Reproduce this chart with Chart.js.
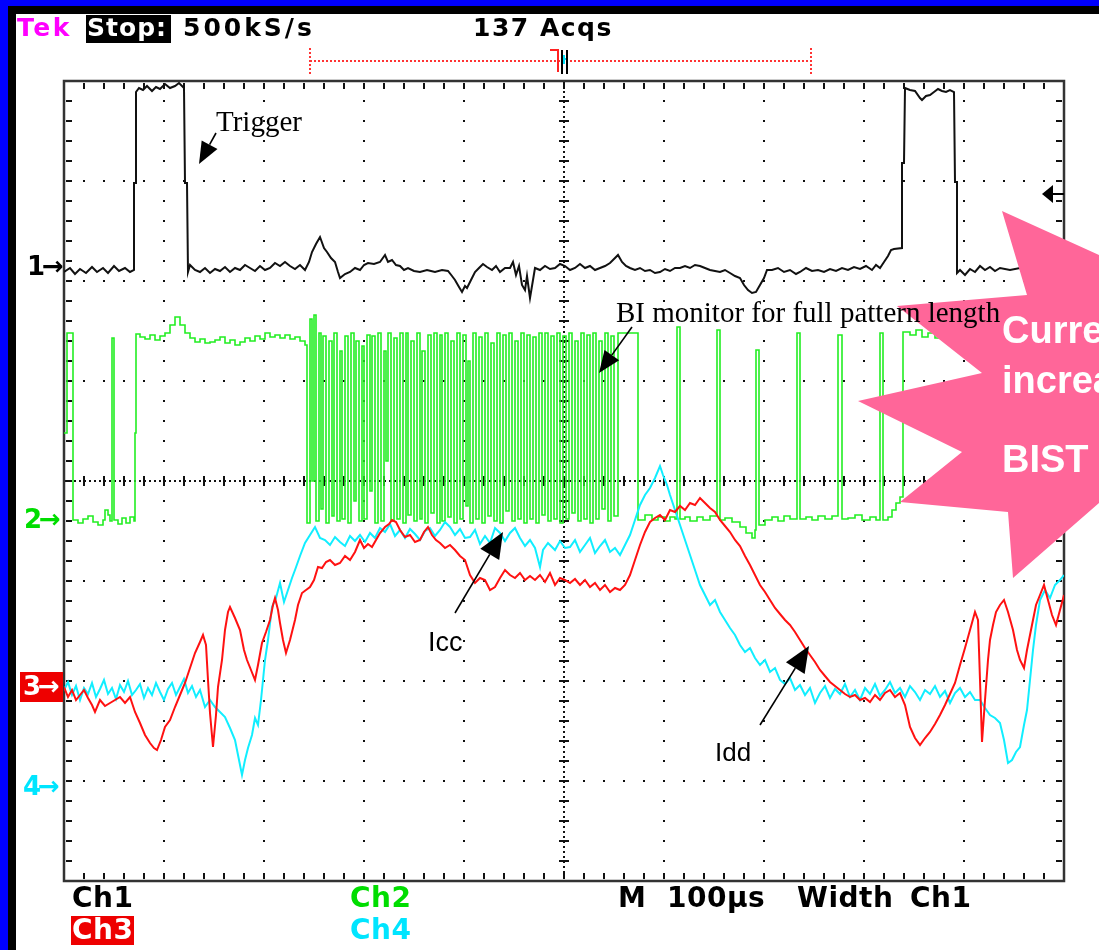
<!DOCTYPE html>
<html>
<head>
<meta charset="utf-8">
<script src="https://cdn.jsdelivr.net/npm/chart.js@4.4.1/dist/chart.umd.min.js"></script>
<style>
  body { margin: 0; background: #fff; }
  #scope { position: relative; width: 1099px; height: 950px; background: #0000ff; overflow: hidden; }
  #frame { position: absolute; left: 8px; top: 6px; right: 0; bottom: 0; background: #000; }
  #screen { position: absolute; left: 16px; top: 14px; right: 0; bottom: 0; background: #fff; }
  #scopeChart { position: absolute; left: 0; top: 0; }
  .lbl { position: absolute; white-space: nowrap; line-height: 1; }
  .scope { font-family: "DejaVu Sans", sans-serif; font-weight: bold; font-size: 25px; letter-spacing: 2.5px; color: #000; }
  .side { font-family: "DejaVu Sans", sans-serif; font-weight: bold; font-size: 26px; letter-spacing: -3px; }
  .foot { font-family: "DejaVu Sans", sans-serif; font-weight: bold; font-size: 28px; letter-spacing: 0.5px; }
  .serif { font-family: "Liberation Serif", "Times New Roman", serif; font-size: 29px; color: #000; }
  .sans { font-family: "Liberation Sans", Arial, sans-serif; font-size: 27px; color: #000; }
  .burst { font-family: "Liberation Sans", Arial, sans-serif; font-weight: bold; font-size: 38px; color: #fff; }
  .box { position: absolute; }
</style>
</head>
<body>
<div id="scope">
  <div id="frame"></div>
  <div id="screen"></div>
  <canvas id="scopeChart" width="1099" height="950"></canvas>

  <div class="lbl scope" style="left:17px;top:15px;color:#ff00ff">Tek</div>
  <div class="box" style="left:86px;top:15px;width:85px;height:28px;background:#000"></div>
  <div class="lbl scope" style="left:87px;top:15px;color:#fff;letter-spacing:1px">Stop:</div>
  <div class="lbl scope" style="left:183px;top:15px;letter-spacing:3px">500kS/s</div>
  <div class="lbl scope" style="left:473px;top:15px;letter-spacing:1.5px">137 Acqs</div>

  <div class="lbl side" style="left:27px;top:253px;color:#000">1→</div>
  <div class="lbl side" style="left:24px;top:506px;color:#00dd00">2→</div>
  <div class="box" style="left:20px;top:672px;width:43px;height:30px;background:#ee0000"></div>
  <div class="lbl side" style="left:23px;top:673px;color:#fff">3→</div>
  <div class="lbl side" style="left:23px;top:773px;color:#00e5ff">4→</div>

  <div class="lbl foot" style="left:72px;top:884px;color:#000">Ch1</div>
  <div class="box" style="left:71px;top:916px;width:63px;height:29px;background:#ee0000"></div>
  <div class="lbl foot" style="left:72px;top:916px;color:#fff">Ch3</div>
  <div class="lbl foot" style="left:350px;top:884px;color:#00dd00">Ch2</div>
  <div class="lbl foot" style="left:350px;top:916px;color:#00e5ff">Ch4</div>
  <div class="lbl foot" style="left:618px;top:884px">M</div>
  <div class="lbl foot" style="left:667px;top:884px">100µs</div>
  <div class="lbl foot" style="left:797px;top:884px">Width</div>
  <div class="lbl foot" style="left:910px;top:884px">Ch1</div>

  <div class="lbl serif" style="left:216px;top:107px">Trigger</div>
  <div class="lbl serif" style="left:616px;top:298px">BI monitor for full pattern length</div>
  <div class="lbl sans" style="left:428px;top:629px">Icc</div>
  <div class="lbl sans" style="left:715px;top:739px;font-size:26px">Idd</div>

  <div class="lbl burst" style="left:1002px;top:311px">Current</div>
  <div class="lbl burst" style="left:1002px;top:361px">increase</div>
  <div class="lbl burst" style="left:1002px;top:440px">BIST</div>
</div>

<script>
// time in µs (10 div x 100 µs), level in 1/100 division from the bottom of the graticule

// Ch1 - trigger signal
const ch1Trace = [
  [0,609],[6,613],[11,607],[16,612],[22,608],[28,614],[33,609],[39,613],[44,608],[50,615],[55,610],[61,613],[66,609],[70,611],[70,698],[72,698],[72,789],
  [75,793],[79,791],[83,795],[88,790],[92,794],[96,792],[101,797],[106,793],[111,795],[115,798],[118,795],[120,793],[121,698],[123,698],[124,609],
  [126,616],[131,611],[136,609],[141,613],[146,608],[151,612],[156,610],[161,614],[166,609],[171,613],[176,611],[181,616],[186,613],[191,610],[196,615],
  [201,611],[206,613],[211,618],[216,615],[221,619],[226,615],[231,612],[236,616],[241,611],[245,619],[248,629],[252,637],[256,644],[260,633],[263,629],
  [267,623],[271,619],[274,609],[276,603],[281,607],[286,609],[291,613],[296,611],[300,616],[304,618],[310,617],[316,619],[321,626],[324,619],[328,621],
  [332,616],[336,615],[340,611],[344,613],[350,610],[356,609],[363,611],[371,609],[378,611],[384,610],[388,605],[391,601],[395,594],[398,589],[401,595],
  [403,593],[407,601],[411,609],[415,613],[419,617],[423,614],[428,611],[432,615],[436,609],[441,613],[446,613],[449,619],[452,606],[455,615],[458,596],
  [461,591],[463,605],[466,583],[469,601],[471,613],[476,611],[481,615],[486,612],[491,613],[496,617],[501,615],[506,611],[511,613],[516,617],[521,613],
  [526,615],[531,611],[536,613],[541,615],[546,618],[551,623],[554,626],[558,619],[562,615],[566,613],[571,611],[576,613],[581,610],[586,611],[591,608],
  [596,609],[601,612],[606,610],[611,613],[616,613],[621,615],[626,613],[631,616],[636,615],[641,613],[646,611],[651,610],[656,609],[661,611],[666,608],
  [671,605],[676,603],[680,596],[684,591],[688,588],[692,589],[696,596],[700,603],[703,611],[708,611],[714,613],[720,609],[726,611],[732,607],[736,609],
  [742,613],[748,610],[754,611],[760,609],[766,612],[772,610],[778,613],[784,611],[790,614],[796,612],[802,615],[808,611],[812,616],[816,613],[820,619],
  [824,625],[827,631],[830,632],[838,633],[838,718],[840,718],[841,793],[846,791],[851,790],[856,783],[858,781],[862,785],[866,786],[870,789],[874,792],
  [878,790],[882,789],[886,791],[890,789],[891,699],[893,699],[893,608],[896,611],[901,606],[906,612],[911,609],[916,615],[921,611],[926,614],[931,610],
  [936,613],[946,611],[956,613],[966,610],[976,612],[986,609],[996,611],[1000,611]
];

// Ch2 - BI monitor (logic levels, drawn as steps)
const ch2Trace = [
  [0,448],[3,548],[9,361],[14,358],[19,362],[24,365],[29,359],[34,356],[39,361],[41,371],[44,366],[46,360],[48,543],[50,361],[54,357],[58,363],[62,358],
  [66,364],[70,360],[71,448],[72,547],[76,544],[81,542],[86,546],[91,541],[96,545],[101,548],[106,556],[111,564],[116,556],[121,548],[126,543],[131,539],
  [136,542],[141,538],[146,539],[151,541],[156,544],[161,538],[166,541],[171,536],[176,539],[181,543],[186,540],[191,545],[196,542],[201,548],[206,544],
  [211,546],[216,543],[221,546],[226,542],[231,544],[236,540],[241,536],
  [243,358],[246,562],[248,400],[250,566],[252,360],[255,548],[257,372],[259,545],[262,358],[265,540],[268,365],[270,548],[273,360],[276,530],[278,362],
  [281,545],[284,358],[287,548],[290,380],[292,540],[295,360],[298,535],[300,362],[303,546],[306,390],[308,545],[311,358],[314,548],[317,360],[320,530],
  [322,420],[324,548],[327,360],[330,543],[333,362],[336,548],[339,358],[342,548],[344,366],[347,540],[350,360],[353,548],[356,362],[358,530],[361,358],
  [364,546],[367,368],[370,548],[373,358],[376,546],[378,360],[381,548],[384,364],[387,540],[390,358],[393,548],[396,362],[399,546],[402,375],[404,520],
  [406,358],[409,548],[412,362],[415,544],[418,358],[421,548],[424,365],[427,538],[430,360],[433,548],[436,358],[439,546],[442,370],[445,548],[448,360],
  [451,540],[454,362],[457,548],[460,358],[463,546],[466,362],[469,544],[472,358],[475,548],[478,366],[481,548],[484,360],[487,545],[490,362],[493,548],
  [496,358],[499,545],[502,362],[505,548],[508,368],[511,540],[514,360],[517,548],[520,362],[523,546],[526,358],[529,548],[532,362],[535,540],[538,372],
  [541,548],[544,360],[547,545],[550,365],[554,548],[574,361],
  [581,366],[588,361],[594,364],[601,360],[606,364],[611,362],[613,554],[616,362],[621,364],[626,360],[633,364],[639,361],[646,365],[653,551],[656,361],
  [661,363],[668,359],[676,354],[682,348],[688,343],[691,351],[692,531],[695,356],[701,361],[708,364],[714,360],[720,365],[726,362],[733,548],[736,362],
  [742,364],[748,361],[754,365],[761,362],[768,365],[774,546],[778,362],[784,363],[791,366],[798,361],[806,364],[812,361],[816,548],[819,361],[824,364],
  [828,371],[832,378],[836,384],[839,549],[846,546],[852,551],[858,544],[864,548],[871,543],[881,546],[896,548],[916,545],[936,547],[956,544],[976,546],
  [1000,546]
];

// Ch3 - Idd
const ch3Trace = [
  [0,194],[4,184],[8,191],[12,181],[16,186],[20,191],[24,183],[28,176],[31,169],[36,181],[41,175],[46,178],[51,181],[56,184],[61,178],[66,184],[71,169],
  [76,158],[81,146],[86,138],[90,133],[93,131],[97,141],[101,154],[106,161],[111,174],[116,186],[121,198],[126,213],[131,228],[136,239],[139,246],[142,236],
  [144,201],[146,168],[149,134],[152,166],[154,194],[158,221],[161,251],[164,269],[166,274],[171,263],[176,251],[180,231],[183,221],[187,211],[191,201],
  [194,216],[198,238],[202,249],[206,261],[209,276],[211,283],[214,271],[216,258],[219,241],[222,228],[226,241],[231,261],[234,276],[238,288],[242,291],
  [246,294],[250,301],[254,314],[258,313],[262,319],[266,321],[271,316],[276,318],[281,325],[286,321],[291,329],[296,341],[300,333],[304,337],[308,334],
  [312,341],[316,348],[321,354],[325,357],[328,361],[332,359],[336,351],[341,344],[346,346],[351,339],[356,341],[360,349],[364,354],[368,346],[372,341],
  [376,338],[381,333],[386,336],[391,331],[396,325],[401,321],[406,306],[411,298],[416,303],[421,301],[426,291],[431,294],[436,303],[441,311],[446,306],
  [451,303],[456,308],[461,301],[466,305],[471,301],[476,306],[481,299],[486,308],[491,296],[496,303],[501,301],[506,298],[511,302],[516,296],[521,301],
  [526,294],[531,298],[536,291],[541,296],[546,289],[551,293],[556,291],[561,296],[566,306],[571,321],[576,336],[581,349],[586,359],[591,363],[596,366],
  [601,361],[606,371],[611,369],[616,375],[621,371],[626,378],[631,376],[636,383],[641,378],[646,373],[651,369],[656,361],[661,355],[666,349],[671,341],
  [676,335],[681,325],[686,316],[691,306],[696,296],[701,289],[706,281],[711,273],[716,267],[721,261],[726,256],[731,249],[736,241],[741,233],[746,226],
  [751,219],[756,211],[761,205],[766,199],[771,195],[776,191],[781,187],[786,184],[791,186],[796,181],[801,183],[806,179],[811,186],[816,181],[821,188],
  [826,191],[831,184],[836,188],[841,176],[846,154],[851,143],[856,136],[861,143],[866,149],[871,157],[876,166],[881,176],[886,187],[891,198],[896,216],
  [901,233],[906,251],[911,269],[914,261],[916,201],[918,139],[921,181],[924,221],[926,241],[929,256],[932,269],[936,276],[940,281],[944,269],[949,251],
  [953,231],[956,221],[960,213],[963,231],[968,256],[972,276],[976,286],[980,296],[984,281],[988,266],[992,256],[996,271],[1000,286]
];

// Ch4 - Icc
const ch4Trace = [
  [0,191],[4,199],[8,186],[12,195],[16,181],[20,193],[24,187],[28,198],[32,184],[36,192],[40,201],[44,187],[48,193],[52,182],[56,196],[60,189],[64,200],
  [68,186],[72,191],[76,197],[80,183],[84,193],[88,186],[92,198],[96,189],[100,181],[104,192],[108,198],[112,186],[116,194],[120,202],[124,188],[128,195],
  [132,184],[136,191],[141,174],[146,181],[151,174],[156,169],[161,164],[166,153],[171,141],[174,126],[178,106],[181,121],[184,133],[188,146],[191,163],
  [194,156],[197,181],[201,221],[204,241],[208,274],[212,283],[216,298],[220,279],[224,291],[228,303],[231,311],[236,325],[241,338],[246,346],[251,354],
  [256,343],[261,341],[266,336],[271,344],[276,339],[281,335],[286,345],[291,340],[296,346],[301,339],[306,348],[311,343],[316,353],[321,349],[326,357],
  [331,345],[336,351],[341,343],[346,352],[351,347],[356,341],[361,350],[366,353],[371,345],[376,351],[381,359],[386,354],[391,346],[396,352],[401,343],
  [406,344],[411,351],[416,337],[421,345],[426,338],[431,353],[436,348],[441,340],[446,348],[451,353],[456,343],[461,335],[466,341],[471,333],[476,314],
  [479,331],[484,338],[491,331],[496,340],[501,333],[506,334],[511,341],[516,329],[521,336],[526,343],[531,328],[536,335],[541,341],[546,329],[551,333],
  [556,326],[561,336],[566,346],[571,361],[576,376],[581,386],[586,393],[591,403],[596,415],[599,406],[603,396],[606,386],[611,371],[616,356],[621,341],
  [626,326],[631,311],[636,296],[641,286],[646,276],[651,281],[656,269],[661,261],[666,253],[671,246],[676,236],[681,229],[686,233],[691,223],[696,216],
  [701,221],[706,209],[711,213],[716,201],[721,197],[726,203],[731,191],[736,196],[741,186],[746,193],[751,178],[756,188],[761,195],[766,183],[771,192],
  [776,187],[781,197],[786,184],[791,191],[796,181],[801,193],[806,187],[811,197],[816,185],[821,191],[826,199],[831,188],[836,193],[841,184],[846,195],
  [851,189],[856,181],[861,191],[866,187],[871,195],[876,184],[881,190],[886,178],[891,188],[896,193],[901,184],[906,189],[911,181],[916,181],[921,173],
  [926,166],[931,163],[936,158],[940,141],[944,118],[948,121],[952,129],[956,134],[960,156],[963,171],[966,201],[969,231],[972,256],[976,281],[981,291],
  [986,283],[991,296],[996,301],[1000,306]
];

// record window shown above the graticule and trigger point (µs)
const recordWindow = [246, 747];
const triggerTime = 497;
// trigger level marker on the right edge (Ch1 level)
const triggerLevel = 687;

// callout arrows: [fromTime, fromLevel, toTime, toLevel]
const calloutArrows = [
  [152, 748, 135, 717],
  [568, 554, 535, 508],
  [391, 268, 439, 349],
  [696, 156, 745, 235]
];

// star-shaped highlight, in time / level units
const starShape = [
  [938,670],[1066,612],[1066,405],[949,303],[944,369],[836,379],[898,429],[794,480],[918,508],[833,575],[963,586]
];

const toXY = arr => arr.map(p => ({ x: p[0], y: p[1] }));

const scopeGrid = {
  id: 'scopeGrid',
  beforeDatasetsDraw(chart) {
    const { ctx, chartArea: a, scales: { x, y } } = chart;
    ctx.save();
    ctx.fillStyle = '#111';
    // dotted divisions
    for (let i = 0; i <= 10; i++) {
      const px = Math.round(x.getPixelForValue(i * 100));
      for (let v = 0; v <= 800; v += 20) {
        ctx.fillRect(px - 1, Math.round(y.getPixelForValue(v)) - 1, 2, 2);
      }
    }
    for (let j = 0; j <= 8; j++) {
      const py = Math.round(y.getPixelForValue(j * 100));
      for (let t = 0; t <= 1000; t += 20) {
        ctx.fillRect(Math.round(x.getPixelForValue(t)) - 1, py - 1, 2, 2);
      }
    }
    // centre cross with minor ticks
    const cx = Math.round(x.getPixelForValue(500));
    const cy = Math.round(y.getPixelForValue(400));
    ctx.strokeStyle = '#111';
    ctx.lineWidth = 2;
    ctx.setLineDash([2, 3]);
    ctx.beginPath();
    ctx.moveTo(cx, a.top); ctx.lineTo(cx, a.bottom);
    ctx.moveTo(a.left, cy); ctx.lineTo(a.right, cy);
    ctx.stroke();
    ctx.setLineDash([]);
    for (let v = 0; v <= 800; v += 20) {
      const py = Math.round(y.getPixelForValue(v));
      ctx.fillRect(cx - 5, py - 1, 10, 2);
      ctx.fillRect(a.left + 2, py - 1, 6, 2);
      ctx.fillRect(a.right - 8, py - 1, 6, 2);
    }
    for (let t = 0; t <= 1000; t += 20) {
      const px = Math.round(x.getPixelForValue(t));
      ctx.fillRect(px - 1, cy - 5, 2, 10);
      ctx.fillRect(px - 1, a.top + 2, 2, 6);
      ctx.fillRect(px - 1, a.bottom - 8, 2, 6);
    }
    // frame
    ctx.strokeStyle = '#333';
    ctx.lineWidth = 2.5;
    ctx.strokeRect(a.left, a.top, a.right - a.left, a.bottom - a.top);
    ctx.restore();
  }
};

function arrow(ctx, x1, y1, x2, y2, len, half) {
  const ang = Math.atan2(y2 - y1, x2 - x1);
  const bx = x2 - len * Math.cos(ang), by = y2 - len * Math.sin(ang);
  ctx.beginPath();
  ctx.moveTo(x1, y1); ctx.lineTo(bx, by);
  ctx.stroke();
  ctx.beginPath();
  ctx.moveTo(x2, y2);
  ctx.lineTo(bx + half * Math.sin(ang), by - half * Math.cos(ang));
  ctx.lineTo(bx - half * Math.sin(ang), by + half * Math.cos(ang));
  ctx.closePath();
  ctx.fill();
}

const overlays = {
  id: 'overlays',
  afterDraw(chart) {
    const { ctx, chartArea: a, scales: { x, y } } = chart;
    ctx.save();
    // record window bar
    const x0 = x.getPixelForValue(recordWindow[0]);
    const x1 = x.getPixelForValue(recordWindow[1]);
    const yb = a.top - 20;
    ctx.strokeStyle = '#ff3333';
    ctx.lineWidth = 2;
    ctx.setLineDash([2, 2]);
    ctx.beginPath();
    ctx.moveTo(x0, yb); ctx.lineTo(x1, yb);
    ctx.moveTo(x0, yb - 13); ctx.lineTo(x0, yb + 14);
    ctx.moveTo(x1, yb - 13); ctx.lineTo(x1, yb + 14);
    ctx.stroke();
    ctx.setLineDash([]);
    // trigger point marker
    const tx = Math.round(x.getPixelForValue(triggerTime));
    ctx.fillStyle = '#ff2222';
    ctx.fillRect(tx - 11, yb - 12, 9, 2);
    ctx.fillRect(tx - 4, yb - 12, 2, 23);
    ctx.fillStyle = '#000';
    ctx.fillRect(tx, yb - 11, 2, 24);
    ctx.fillRect(tx + 5, yb - 11, 2, 24);
    ctx.fillStyle = '#00e5ff';
    ctx.fillRect(tx + 2, yb - 3, 3, 2);
    ctx.fillRect(tx + 2, yb - 6, 2, 9);

    // trigger level marker
    const ty = y.getPixelForValue(triggerLevel);
    ctx.fillStyle = '#000';
    ctx.beginPath();
    ctx.moveTo(a.right - 22, ty);
    ctx.lineTo(a.right - 11, ty - 9);
    ctx.lineTo(a.right - 11, ty + 9);
    ctx.closePath();
    ctx.fill();
    ctx.fillRect(a.right - 12, ty - 1, 12, 2);

    // callout arrows
    ctx.strokeStyle = '#000';
    ctx.lineWidth = 1.6;
    calloutArrows.forEach((c, i) => {
      const big = i >= 2;
      arrow(ctx, x.getPixelForValue(c[0]), y.getPixelForValue(c[1]),
        x.getPixelForValue(c[2]), y.getPixelForValue(c[3]), big ? 26 : 22, big ? 11 : 9);
    });

    // highlight star
    ctx.fillStyle = '#ff6699';
    ctx.beginPath();
    starShape.forEach((p, i) => {
      const px = x.getPixelForValue(p[0]), py = y.getPixelForValue(p[1]);
      if (i === 0) ctx.moveTo(px, py); else ctx.lineTo(px, py);
    });
    ctx.closePath();
    ctx.fill();
    ctx.restore();
  }
};

const ctx = document.getElementById('scopeChart').getContext('2d');
const scopeChart = new Chart(ctx, {
  type: 'line',
  data: {
    datasets: [
      { label: 'Ch3', data: toXY(ch3Trace), borderColor: '#ff1111', borderWidth: 2 },
      { label: 'Ch4', data: toXY(ch4Trace), borderColor: '#11eeff', borderWidth: 2 },
      { label: 'Ch2', data: toXY(ch2Trace), borderColor: '#22ee22', borderWidth: 1.6, stepped: 'before' },
      { label: 'Ch1', data: toXY(ch1Trace), borderColor: '#111111', borderWidth: 2 }
    ]
  },
  options: {
    responsive: false,
    animation: false,
    devicePixelRatio: 1,
    layout: { padding: { left: 64, top: 81, right: 35, bottom: 69 } },
    elements: { point: { radius: 0 }, line: { tension: 0 } },
    plugins: { legend: { display: false }, tooltip: { enabled: false } },
    scales: {
      x: { type: 'linear', min: 0, max: 1000, display: false },
      y: { type: 'linear', min: 0, max: 800, display: false }
    }
  },
  plugins: [scopeGrid, overlays]
});
</script>
</body>
</html>
